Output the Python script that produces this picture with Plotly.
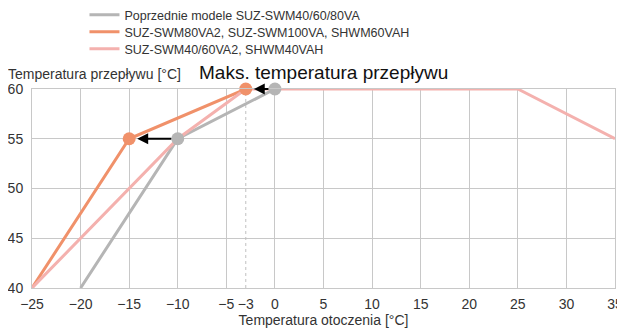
import plotly.graph_objects as go

# ---- data ----
series_names = [
    "Poprzednie modele SUZ-SWM40/60/80VA",
    "SUZ-SWM80VA2, SUZ-SWM100VA, SHWM60VAH",
    "SUZ-SWM40/60VA2, SHWM40VAH",
]
gray_x = [-20, -10, 0]
gray_y = [40, 55, 60]
orange_x = [-25, -15, -3]
orange_y = [40, 55, 60]
pink_x = [-25, -10, -3, 25, 35]
pink_y = [40, 55, 60, 60, 55]

gray_pts_x = [-10, 0]
gray_pts_y = [55, 60]
orange_pts_x = [-15, -3]
orange_pts_y = [55, 60]

ref_x = -3
ref_y = [40, 60]

x_ticks = [-25, -20, -15, -10, -5, -3, 0, 5, 10, 15, 20, 25, 30, 35]
x_grid = [-25, -20, -15, -10, -5, 0, 5, 10, 15, 20, 25, 30, 35]
y_ticks = [40, 45, 50, 55, 60]

title_text = "Maks. temperatura przepływu"
y_title = "Temperatura przepływu [°C]"
x_title = "Temperatura otoczenia [°C]"

GRAY = "#b5b5b5"
ORANGE = "#f0916a"
PINK = "#f4b1ae"
GRID = "#c8c8c8"
TXT = "#333333"
FONT = "Liberation Sans"
W, H = 617, 326          # page body adds an 8px margin
ML, MT, MR, MB = 24, 81, 10, 46
PLOT_H = H - MT - MB

fig = go.Figure()

# dotted reference line at -3
fig.add_trace(go.Scatter(x=[ref_x, ref_x], y=ref_y, mode="lines",
                         line=dict(color="#c0c0c0", width=1, dash="dot"),
                         showlegend=False, hoverinfo="skip"))

legends = ["legend", "legend2", "legend3"]
fig.add_trace(go.Scatter(x=gray_x, y=gray_y, mode="lines", name=series_names[0],
                         line=dict(color=GRAY, width=3), cliponaxis=False,
                         legend=legends[0]))
fig.add_trace(go.Scatter(x=orange_x, y=orange_y, mode="lines", name=series_names[1],
                         line=dict(color=ORANGE, width=3), cliponaxis=False,
                         legend=legends[1]))
fig.add_trace(go.Scatter(x=pink_x, y=pink_y, mode="lines", name=series_names[2],
                         line=dict(color=PINK, width=3), cliponaxis=False,
                         legend=legends[2]))

fig.add_trace(go.Scatter(x=gray_pts_x, y=gray_pts_y, mode="markers",
                         marker=dict(color=GRAY, size=13), showlegend=False,
                         cliponaxis=False))
fig.add_trace(go.Scatter(x=orange_pts_x, y=orange_pts_y, mode="markers",
                         marker=dict(color=ORANGE, size=13), showlegend=False,
                         cliponaxis=False))

# arrows from previous to new points
for gx, gy, ox, oy in zip(gray_pts_x, gray_pts_y, orange_pts_x, orange_pts_y):
    fig.add_annotation(x=ox, y=oy, ax=gx, ay=gy, xref="x", yref="y",
                       axref="x", ayref="y", showarrow=True, text="",
                       arrowhead=2, arrowsize=1.1, arrowwidth=2,
                       arrowcolor="black", standoff=8, startstandoff=5)

fig.add_annotation(x=0.5, y=1.0, xref="paper", yref="paper", xanchor="center",
                   yanchor="bottom", yshift=4, text=title_text, showarrow=False,
                   font=dict(family=FONT, size=19, color="#111111"))
fig.add_annotation(x=-0.045, y=1.0, xref="paper", yref="paper", xanchor="left",
                   yanchor="bottom", yshift=5, text=y_title, showarrow=False,
                   font=dict(family=FONT, size=14, color=TXT))

leg_common = dict(xref="paper", yref="paper", xanchor="left", yanchor="middle",
                  font=dict(family=FONT, size=12.5, color=TXT),
                  bgcolor="rgba(0,0,0,0)", itemwidth=30)
row_px = [7, 24, 41]   # row centres in figure pixels from top
plot_bottom = H - MB

fig.update_layout(
    width=W, height=H,
    margin=dict(l=ML, r=MR, t=MT, b=MB, autoexpand=False),
    paper_bgcolor="white", plot_bgcolor="white",
    font=dict(family=FONT, size=14, color=TXT),
    legend=dict(x=0.09, y=(plot_bottom - row_px[0]) / PLOT_H, **leg_common),
    legend2=dict(x=0.09, y=(plot_bottom - row_px[1]) / PLOT_H, **leg_common),
    legend3=dict(x=0.09, y=(plot_bottom - row_px[2]) / PLOT_H, **leg_common),
    xaxis=dict(range=[-25, 35], tickvals=x_ticks, showgrid=False, zeroline=False,
               showline=True, linecolor=GRID, linewidth=1, mirror=True,
               ticks="", tickfont=dict(size=14, color=TXT), ticklabelstandoff=3,
               minor=dict(tickvals=x_grid, showgrid=True, gridcolor=GRID, gridwidth=1, ticks=""),
               title=dict(text=x_title, font=dict(size=14, color=TXT), standoff=3)),
    yaxis=dict(range=[40, 60], tickvals=y_ticks, showgrid=True, gridcolor=GRID,
               gridwidth=1, zeroline=False, showline=True, linecolor=GRID,
               linewidth=1, mirror=True, ticks="", tickfont=dict(size=14, color=TXT),
               ticklabelstandoff=5),
)

fig.write_html("out.html")
